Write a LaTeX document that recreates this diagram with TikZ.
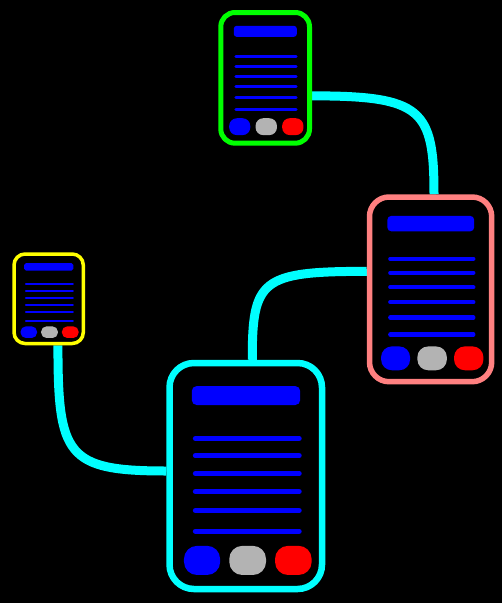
\documentclass[tikz,border=0pt]{standalone}
\usepackage{tikz}
\usetikzlibrary{calc}
\usetikzlibrary{backgrounds}

\definecolor{framegreen}{RGB}{0,255,0}
\definecolor{framepink}{RGB}{255,128,128}
\definecolor{frameyellow}{RGB}{255,255,0}
\definecolor{wirecyan}{RGB}{0,255,255}
\definecolor{btngray}{RGB}{179,179,179}
\definecolor{btnblue}{RGB}{0,0,255}
\definecolor{btnred}{RGB}{255,0,0}

\tikzset{
  frame/.style={rectangle, inner sep=0pt},
  wire/.style={wirecyan, line width=9pt},
}

% #1 name, #2 left, #3 top, #4 width, #5 height, #6 colour, #7 border
\newcommand{\phone}[7]{
\node[frame, draw=#6, line width=#7, minimum width=#4, minimum height=#5, rounded corners=0.16*#4] (#1) at (#2+#4/2, #3+#5/2) {};
\begin{scope}[shift={(#2,#3)}, x=#4pt, y=-#5pt]
\fill[btnblue, rounded corners=0.022*#5] (0.146,0.102) rectangle (0.857,0.186);
\foreach \ly in {0.334,0.41,0.489,0.569,0.653,0.744}
  \draw[btnblue, line width=0.023*#5, line cap=round] (0.17,\ly) -- (0.85,\ly);
\fill[btnblue, rounded corners=0.058*#5] (0.095,0.809) rectangle (0.332,0.938);
\fill[btngray, rounded corners=0.058*#5] (0.392,0.809) rectangle (0.633,0.938);
\fill[btnred, rounded corners=0.058*#5] (0.692,0.809) rectangle (0.932,0.938);
\end{scope}
}

\begin{document}
\begin{tikzpicture}[x=1pt, y=-1pt]
\useasboundingbox (0,0) rectangle (502,603);

\phone{big}{169.5}{363}{152.5}{226}{wirecyan}{6.5}
\phone{pink}{369.5}{197}{122.2}{184.7}{framepink}{5.5}
\phone{green}{220.8}{12.5}{88.7}{130.7}{framegreen}{5}
\phone{yellow}{14}{254}{69.3}{89.5}{frameyellow}{3.5}

\begin{scope}[on background layer]
\fill[black] (0,0) rectangle (502,603);
\draw[wire] ([xshift=9.3pt]yellow.south) .. controls +(0,110) and +(-100,0) .. ([yshift=5pt]big.west);
\draw[wire] ([xshift=6.5pt]big.north) .. controls +(0,-80) and +(-106,0) .. ([yshift=18pt]pink.west);
\draw[wire] ([yshift=-18pt]green.east) .. controls +(110,0) and +(0,-85) .. ([xshift=3.4pt]pink.north);
\end{scope}

\end{tikzpicture}
\end{document}
